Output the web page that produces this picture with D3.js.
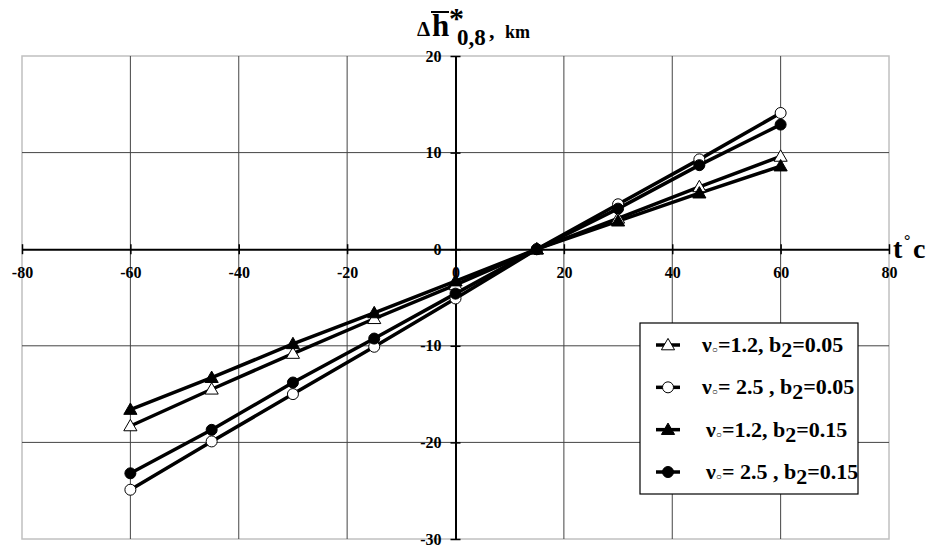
<!DOCTYPE html>
<html>
<head>
<meta charset="utf-8">
<script src="https://cdn.jsdelivr.net/npm/d3@7"></script>
<style>
  body { margin: 0; background: #fff; }
  svg { display: block; font-family: "Liberation Serif", "Times New Roman", serif; font-weight: bold; }
</style>
</head>
<body>
<svg id="chart" width="936" height="546"></svg>
<script>
// temperature points, deg C
const temps = [-60, -45, -30, -15, 0, 15, 30, 45, 60];
// delta h values, km
const openTri   = [-18.3, -14.5, -10.8, -7.2, -3.7, 0, 3.2, 6.45, 9.6];   // v0=1.2, b2=0.05
const openCirc  = [-24.9, -19.9, -15.0, -10.1, -5.1, 0, 4.65, 9.3, 14.1]; // v0=2.5, b2=0.05
const fullTri   = [-16.6, -13.3, -9.8, -6.6, -3.3, 0, 2.9, 5.8, 8.6];     // v0=1.2, b2=0.15
const fullCirc  = [-23.2, -18.7, -13.8, -9.25, -4.6, 0, 4.2, 8.7, 12.9];  // v0=2.5, b2=0.15

const xTicks = [-80, -60, -40, -20, 0, 20, 40, 60, 80];
const yTicks = [-30, -20, -10, 0, 10, 20];

const legendV = ["1.2", " 2.5 ", "1.2", " 2.5 "];
const legendB = ["0.05", "0.05", "0.15", "0.15"];

const series = [
  {vals: openTri,  shape: "tri",  fill: "#fff"},
  {vals: openCirc, shape: "circ", fill: "#fff"},
  {vals: fullTri,  shape: "tri",  fill: "#000"},
  {vals: fullCirc, shape: "circ", fill: "#000"}
];

const svg = d3.select('#chart');

const x = d3.scaleLinear().domain([-80, 80]).range([22, 889]);
const y = d3.scaleLinear().domain([-30, 20]).range([539, 56]);

// frame + grid
svg.append("rect")
  .attr("x", x(-80)).attr("y", y(20))
  .attr("width", x(80) - x(-80)).attr("height", y(-30) - y(20))
  .attr("fill", "none").attr("stroke", "#c0c0c0").attr("stroke-width", 1.5);

svg.append("g").selectAll("line")
  .data(xTicks.filter(d => d != -80 && d != 80 && d != 0))
  .join("line")
  .attr("x1", d => x(d)).attr("x2", d => x(d))
  .attr("y1", y(20)).attr("y2", y(-30))
  .attr("stroke", "#444").attr("stroke-width", 1);

svg.append("g").selectAll("line")
  .data(yTicks.filter(d => d != 20 && d != -30 && d != 0))
  .join("line")
  .attr("x1", x(-80)).attr("x2", x(80))
  .attr("y1", d => y(d)).attr("y2", d => y(d))
  .attr("stroke", "#444").attr("stroke-width", 1);

// axes through the origin
const xAxis = d3.axisBottom(x).tickValues(xTicks).tickSize(5).tickSizeOuter(0).tickFormat(d3.format("d"));
const gx = svg.append("g").attr("transform", `translate(0,${y(0)})`).call(xAxis);
gx.select(".domain").attr("stroke", "#000").attr("stroke-width", 2);
gx.selectAll(".tick line").attr("y1", -5).attr("stroke-width", 1.5);
gx.selectAll(".tick text")
  .attr("y", 17).style("font-family", "Liberation Serif").style("font-weight", "bold")
  .style("font-size", "16px").text(d => String(d).replace("−", "-"));

const yAxis = d3.axisLeft(y).tickValues(yTicks).tickSize(5).tickSizeOuter(0).tickFormat(d3.format("d"));
const gy = svg.append("g").attr("transform", `translate(${x(0)},0)`).call(yAxis);
gy.select(".domain").attr("stroke", "#000").attr("stroke-width", 2);
gy.selectAll(".tick line").attr("x1", 5).attr("stroke-width", 1.5);
gy.selectAll(".tick text")
  .attr("x", -14).style("font-family", "Liberation Serif").style("font-weight", "bold")
  .style("font-size", "16px").text(d => String(d).replace("−", "-"));

// series lines
const line = d3.line().x((d, i) => x(temps[i])).y(d => y(d));

function marker(g, shape, fill) {
  if (shape == "tri") {
    g.append("path")
      .attr("d", d3.symbol().type(d3.symbolTriangle).size(75)())
      .attr("transform", "translate(0,1)")
      .attr("fill", fill).attr("stroke", "#000").attr("stroke-width", 1);
  } else {
    g.append("circle").attr("r", 5.5)
      .attr("fill", fill).attr("stroke", "#000").attr("stroke-width", 1);
  }
}

series.forEach(s => {
  svg.append("path").datum(s.vals)
    .attr("d", line).attr("fill", "none")
    .attr("stroke", "#000").attr("stroke-width", 3.5);
});
series.forEach(s => {
  svg.append("g").selectAll("g")
    .data(s.vals).join("g")
    .attr("transform", (d, i) => `translate(${x(temps[i])},${y(d)})`)
    .each(function() { marker(d3.select(this), s.shape, s.fill); });
});

// axis titles
const tc = svg.append("text").attr("y", 258).style("font-size", "28px");
tc.append("tspan").attr("x", 893).text("t");
tc.append("tspan").attr("x", 904).attr("dy", -12).style("font-size", "16px").text("°");
tc.append("tspan").attr("x", 913).attr("dy", 12).text("c");

const title = svg.append("text").attr("y", 36);
title.append("tspan").attr("x", 417).style("font-size", "21px").text("Δ");
title.append("tspan").attr("x", 432).style("font-size", "31px").text("h");
title.append("tspan").attr("x", 449).attr("dy", -8).style("font-size", "30px").text("*");
title.append("tspan").attr("x", 457).attr("dy", 17).style("font-size", "23px").text("0,8");
title.append("tspan").attr("x", 489).attr("dy", -7).style("font-size", "22px").text(",");
title.append("tspan").attr("x", 505).style("font-size", "18px").text("km");
svg.append("line").attr("x1", 431).attr("x2", 449).attr("y1", 12).attr("y2", 12)
  .attr("stroke", "#000").attr("stroke-width", 2);

// legend
const lg = svg.append("g");
lg.append("rect").attr("x", 640).attr("y", 323).attr("width", 218).attr("height", 171)
  .attr("fill", "#fff").attr("stroke", "#000").attr("stroke-width", 1.2);

const rowY = d3.scalePoint().domain(d3.range(4)).range([345, 472]);
series.forEach((s, i) => {
  const r = lg.append("g").attr("transform", `translate(668,${rowY(i)})`);
  r.append("line").attr("x1", -12).attr("x2", 12).attr("stroke", "#000").attr("stroke-width", 3.5);
  marker(r, s.shape, s.fill);
  const t = lg.append("text").attr("x", i < 2 ? 702 : 706).attr("y", rowY(i) + 7).style("font-size", "22px");
  t.append("tspan").text("ν");
  t.append("tspan").style("font-size", "10px").attr("dy", 1).text("○");
  t.append("tspan").attr("dy", -1).text("=" + legendV[i] + ", b");
  t.append("tspan").attr("dy", 5).text("2");
  t.append("tspan").attr("dy", -5).text("=" + legendB[i]);
});
</script>
</body>
</html>
